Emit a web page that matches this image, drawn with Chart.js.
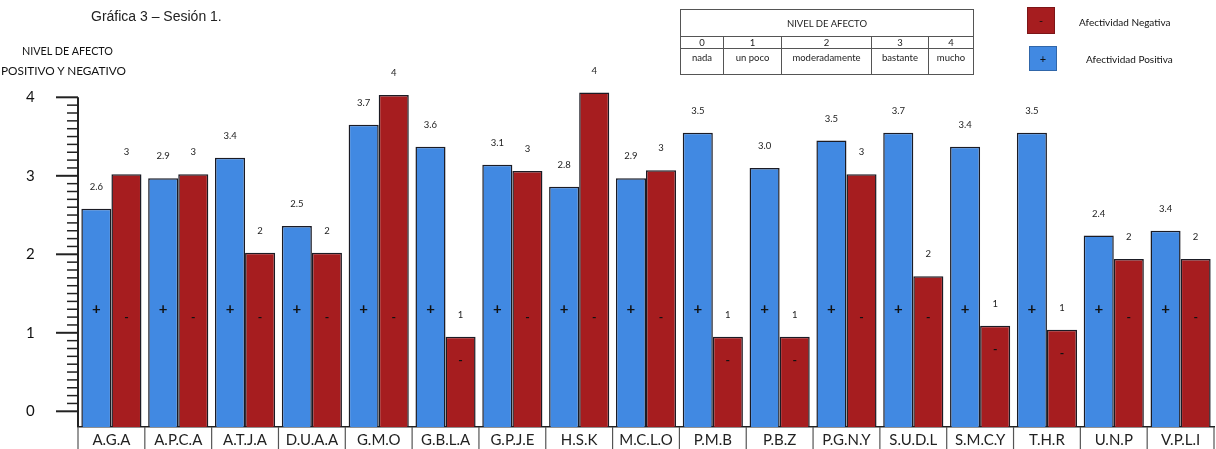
<!DOCTYPE html>
<html><head><meta charset="utf-8">
<script src="https://cdn.jsdelivr.net/npm/chart.js@4.4.1/dist/chart.umd.min.js"></script>
<style>
html,body{margin:0;padding:0;background:#fff;width:1216px;height:449px;overflow:hidden;}
body{position:relative;font-family:Lato,'Noto Sans',sans-serif;color:#111;}
#c{position:absolute;left:0;top:0;}
.t{position:absolute;white-space:nowrap;line-height:1;}
#lvl{position:absolute;left:680px;top:9px;border-collapse:collapse;font-family:Lato,sans-serif;font-size:9.5px;color:#222;}
#lvl td{border:1px solid #555;text-align:center;padding:0;}
.sq{position:absolute;box-sizing:border-box;display:flex;align-items:center;justify-content:center;font-family:Lato,sans-serif;font-size:11px;color:#111;}
</style></head><body>
<canvas id="c" width="1216" height="449"></canvas>
<div class="t" style="left:91px;top:9px;font-family:'Liberation Sans',Arial,sans-serif;font-size:14px;color:#222;">Gráfica 3 – Sesión 1.</div>
<div class="t" style="left:22px;top:46px;font-family:Lato,sans-serif;font-size:10.8px;color:#111;">NIVEL DE AFECTO</div>
<div class="t" style="left:1px;top:65px;font-family:Lato,sans-serif;font-size:11.8px;color:#111;">POSITIVO Y NEGATIVO</div>
<table id="lvl"></table>
<div id="legend"></div>
<script>
const categories = ['A.G.A','A.P.C.A','A.T.J.A','D.U.A.A','G.M.O','G.B.L.A','G.P.J.E','H.S.K','M.C.L.O','P.M.B','P.B.Z','P.G.N.Y','S.U.D.L','S.M.C.Y','T.H.R','U.N.P','V.P.L.I'];
const positiveValues = [2.58,2.97,3.23,2.36,3.65,3.37,3.14,2.86,2.97,3.55,3.10,3.45,3.55,3.37,3.55,2.24,2.30];
const negativeValues = [3.02,3.02,2.02,2.02,4.03,0.95,3.06,4.06,3.07,0.95,0.95,3.02,1.72,1.09,1.04,1.94,1.94];
const positiveLabels = ['2.6','2.9','3.4','2.5','3.7','3.6','3.1','2.8','2.9','3.5','3.0','3.5','3.7','3.4','3.5','2.4','3.4'];
const negativeLabels = ['3','3','2','2','4','1','3','4','3','1','1','3','2','1','1','2','2'];
const yTickLabels = ['0','1','2','3','4'];
const levelTitle = 'NIVEL DE AFECTO';
const levelNumbers = ['0','1','2','3','4'];
const levelNames = ['nada','un poco','moderadamente','bastante','mucho'];
const seriesNames = ['Afectividad Positiva','Afectividad Negativa'];
const seriesSigns = ['+','-'];

const BLUE = '#4189e2', RED = '#a61d1f', EDGE = '#1b1b24';
const Y_MIN = -0.2, Y_MAX = 4.2;

// level table
(function(){
  const widths = [43,58,90,57,45];
  const t = document.getElementById('lvl');
  let h = '<tr><td colspan="5" style="height:26px;font-size:9.5px;">'+levelTitle+'</td></tr><tr>';
  levelNumbers.forEach((n,i)=>{h+='<td style="width:'+(widths[i]-1)+'px;height:11px;">'+n+'</td>';});
  h += '</tr><tr>';
  levelNames.forEach(n=>{h+='<td style="height:22px;vertical-align:top;padding-top:3px;">'+n+'</td>';});
  h += '</tr>';
  t.innerHTML = h;
})();

// legend
(function(){
  const lg = document.getElementById('legend');
  const items = [
    {name:seriesNames[1], sign:seriesSigns[1], color:RED, sq:[1027,7,28,27], tx:[1079,17]},
    {name:seriesNames[0], sign:seriesSigns[0], color:BLUE, sq:[1029,46,28,25], tx:[1086,54]}
  ];
  let h='';
  items.forEach(it=>{
    h += '<div class="sq" style="left:'+it.sq[0]+'px;top:'+it.sq[1]+'px;width:'+it.sq[2]+'px;height:'+it.sq[3]+'px;background:'+it.color+';border:1px solid rgba(0,0,0,0.25);">'+it.sign+'</div>';
    h += '<div class="t" style="left:'+it.tx[0]+'px;top:'+it.tx[1]+'px;font-size:10px;color:#111;">'+it.name+'</div>';
  });
  lg.innerHTML = h;
})();

const deco = {
  id:'deco',
  afterDatasetsDraw(chart){
    const ctx = chart.ctx, ca = chart.chartArea;
    const ys = chart.scales.y, xs = chart.scales.x;
    ctx.save();
    const top = Number(yTickLabels[yTickLabels.length-1]);
    // y axis line
    ctx.strokeStyle = '#222'; ctx.lineWidth = 2;
    ctx.beginPath(); ctx.moveTo(ca.left, ys.getPixelForValue(top)); ctx.lineTo(ca.left, ca.bottom); ctx.stroke();
    // ticks
    for (let k=0;k<=top*10;k++){
      const y = ys.getPixelForValue(k/10);
      const major = k%10===0;
      ctx.lineWidth = major?2:1.5;
      ctx.beginPath(); ctx.moveTo(ca.left-(major?22:11), y); ctx.lineTo(ca.left, y); ctx.stroke();
    }
    // category separators
    const n = categories.length;
    const half = (xs.getPixelForValue(1)-xs.getPixelForValue(0))/2;
    ctx.strokeStyle = '#555'; ctx.lineWidth = 1.2;
    for (let i=0;i<=n;i++){
      const x = i<n ? xs.getPixelForValue(i)-half : xs.getPixelForValue(n-1)+half;
      ctx.beginPath(); ctx.moveTo(x, ca.bottom); ctx.lineTo(x, chart.height); ctx.stroke();
    }
    // value labels and signs
    chart.data.datasets.forEach((ds,di)=>{
      const meta = chart.getDatasetMeta(di);
      meta.data.forEach((el,i)=>{
        ctx.fillStyle = '#222';
        ctx.font = '9.5px Lato, sans-serif';
        ctx.textAlign = 'center'; ctx.textBaseline = 'middle';
        ctx.fillText(ds.valueLabels[i], el.x, el.y-22);
        let sy;
        if (ds.sign === '+') { ctx.font = 'bold 15px Lato, sans-serif'; sy = ys.getPixelForValue(1.3); }
        else { ctx.font = 'bold 12px Lato, sans-serif'; sy = ys.getPixelForValue(Math.min(1.2, ds.data[i]-0.3)); }
        ctx.fillStyle = '#111';
        ctx.fillText(ds.sign, el.x, sy);
      });
    });
    ctx.restore();
  }
};

new Chart(document.getElementById('c'), {
  type:'bar',
  data:{
    labels:categories,
    datasets:[
      {label:seriesNames[0], data:positiveValues, backgroundColor:BLUE, borderColor:EDGE, borderWidth:1.5, base:Y_MIN, sign:seriesSigns[0], valueLabels:positiveLabels},
      {label:seriesNames[1], data:negativeValues, backgroundColor:RED, borderColor:EDGE, borderWidth:1.5, base:Y_MIN, sign:seriesSigns[1], valueLabels:negativeLabels}
    ]
  },
  options:{
    responsive:false, animation:false, devicePixelRatio:1,
    layout:{padding:{top:81.6,right:2,left:26,bottom:0}},
    plugins:{legend:{display:false}, tooltip:{enabled:false}, title:{display:false}},
    datasets:{bar:{categoryPercentage:0.9, barPercentage:1.0}},
    scales:{
      x:{grid:{display:false,drawTicks:false}, border:{display:true,color:'#222',width:1.5},
         afterFit:s=>{s.height = 22;},
         ticks:{padding:4,color:'#222',font:{family:'Lato',size:15},maxRotation:0,autoSkip:false}},
      y:{min:Y_MIN,max:Y_MAX, grid:{display:false,drawTicks:false}, border:{display:false},
         afterBuildTicks:s=>{s.ticks = yTickLabels.map(t=>({value:Number(t)}));},
         afterFit:s=>{s.width = 52;},
         ticks:{padding:0,crossAlign:'far',color:'#111',font:{family:'Lato',size:15},callback:(v,i)=>yTickLabels[i]}}
    }
  },
  plugins:[deco]
});
</script>
</body></html>
